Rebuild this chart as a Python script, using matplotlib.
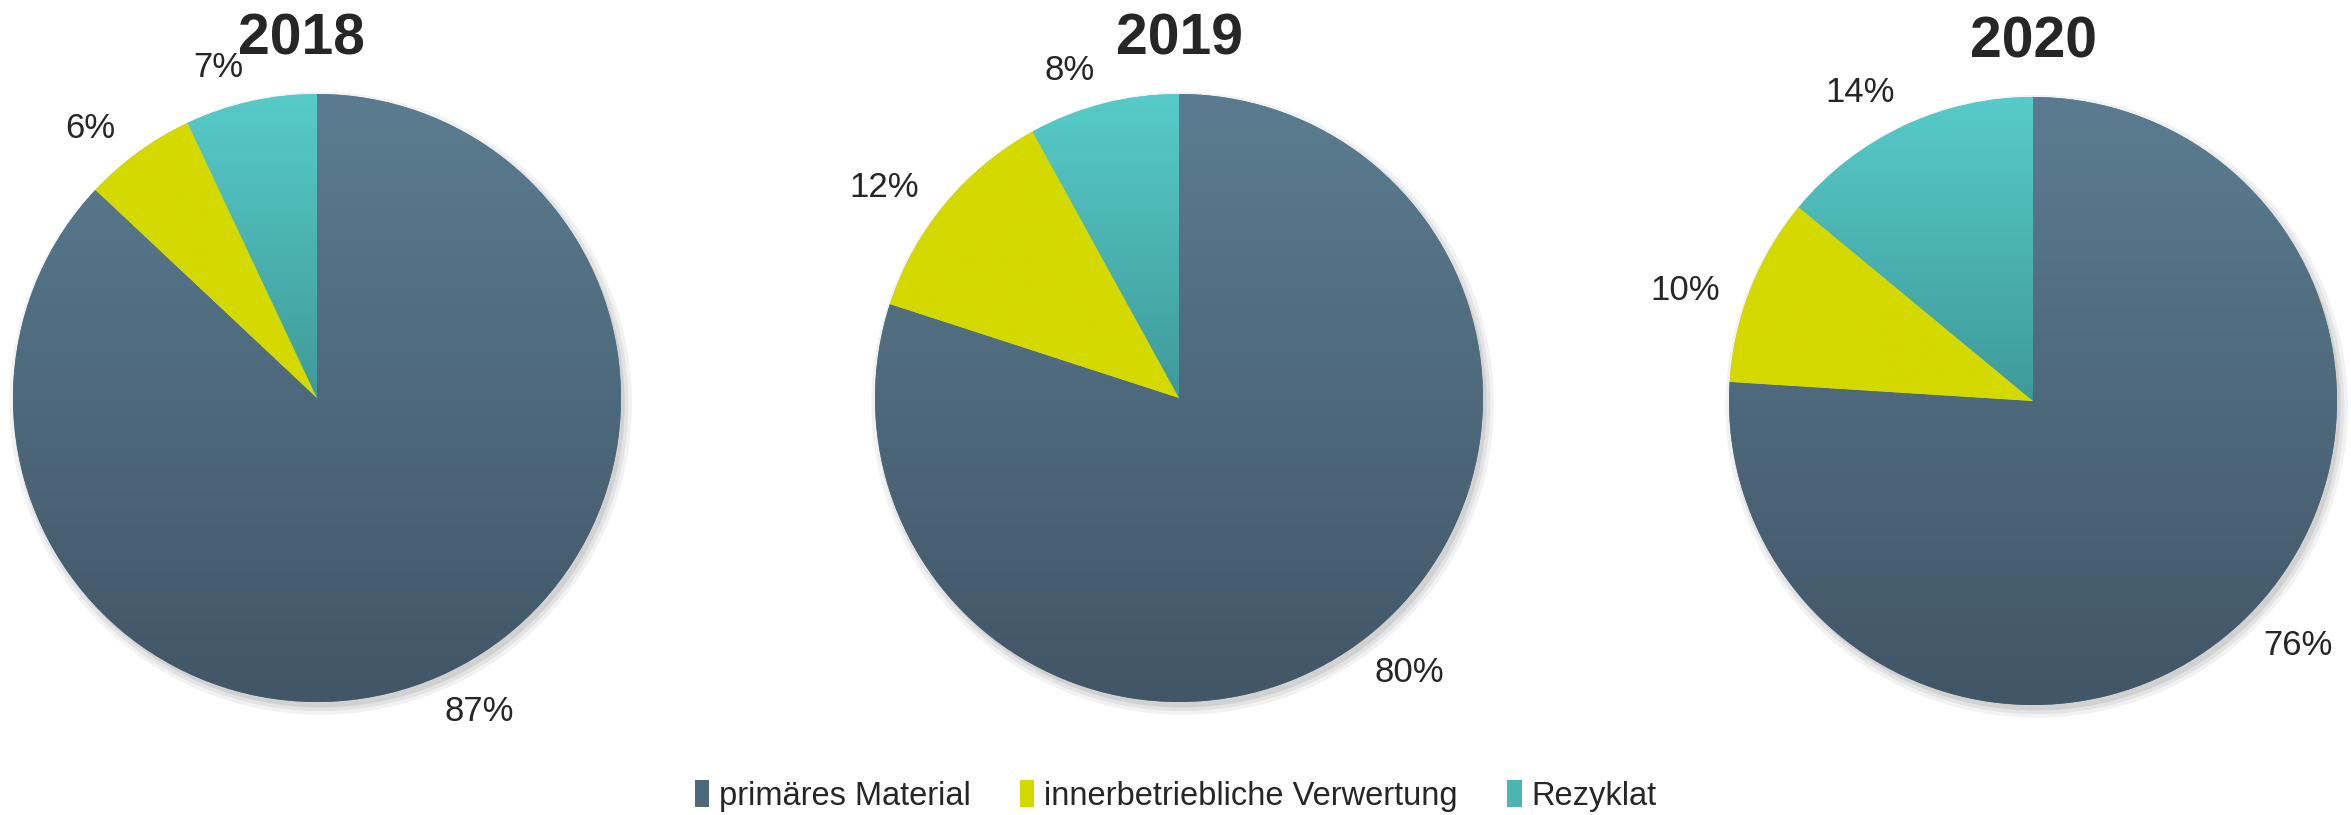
import numpy as np
import matplotlib
matplotlib.use("Agg")
import matplotlib.pyplot as plt
from matplotlib.patches import Patch, Circle
from matplotlib.colors import LinearSegmentedColormap
from matplotlib import font_manager

# data
years = ['2018', '2019', '2020']
categories = ['primäres Material', 'innerbetriebliche Verwertung', 'Rezyklat']
primaer = [87, 80, 76]
innerbetrieblich = [6, 12, 10]
rezyklat = [7, 8, 14]

# colours (top / bottom of gradient)
col_top = ['#5b7c90', '#d4d900', '#57cbc9']
col_bot = ['#415667', '#d4d900', '#3f9a9a']
text_col = '#262626'

names = {f.name for f in font_manager.fontManager.ttflist}
narrow = 'Liberation Sans Narrow' if 'Liberation Sans Narrow' in names else 'Liberation Sans'
plt.rcParams['font.family'] = ['Liberation Sans', 'DejaVu Sans']

W, H = 2351, 815
fig = plt.figure(figsize=(W / 100, H / 100), dpi=100)
renderer = fig.canvas.get_renderer()

centers = [(317, 398), (1179, 398), (2033, 401)]
radius_px = 304
L = 1.3
side = 2 * L * radius_px
title_dx = [-0.05, 0.0, 0.0]
gap = 0.08       # space between pie edge and label box (radius units)
rot = 4.0        # small angular shift of the labels (deg)

for i, yr in enumerate(years):
    cx, cy = centers[i]
    ax = fig.add_axes([(cx - side / 2) / W, (H - cy - side / 2) / H, side / W, side / H])
    ax.set_xlim(-L, L)
    ax.set_ylim(-L, L)
    ax.set_aspect('equal')
    ax.axis('off')

    # soft shadow
    for k, a in enumerate([0.05, 0.06, 0.08]):
        ax.add_patch(Circle((0.012, -0.018), 1.0 + 0.012 * (2 - k), color='#000000',
                            alpha=a, lw=0, zorder=0))

    vals = [primaer[i], innerbetrieblich[i], rezyklat[i]]
    wedges, _ = ax.pie(vals, startangle=90, counterclock=False, colors=col_top,
                       radius=1.0, wedgeprops=dict(linewidth=0))
    for w in wedges:
        w.set_zorder(1)

    # vertical gradient on each wedge
    for j, w in enumerate(wedges):
        ext = w.get_path().get_extents()
        cmap = LinearSegmentedColormap.from_list('g%d' % j, [col_bot[j], col_top[j]])
        grad = np.linspace(0, 1, 256).reshape(-1, 1)
        im = ax.imshow(grad, extent=(ext.x0, ext.x1, ext.y0, ext.y1), origin='lower',
                       cmap=cmap, aspect='auto', zorder=2, interpolation='bilinear')
        im.set_clip_path(w)
    ax.set_xlim(-L, L)
    ax.set_ylim(-L, L)

    # percentage labels, placed just outside the slice end
    scale = radius_px  # pixels per data unit
    start = 90.0
    for v in vals:
        mid = np.deg2rad(start - v * 3.6 / 2 + rot)
        t = ax.text(0, 0, '%d%%' % v, ha='center', va='center', fontsize=25,
                    color=text_col, zorder=3)
        bb = t.get_window_extent(renderer)
        hw, hh = bb.width / 2 / scale, bb.height / 2 / scale
        d = 1.0 + gap + abs(np.cos(mid)) * hw + abs(np.sin(mid)) * hh * 0.6
        t.set_position((d * np.cos(mid), d * np.sin(mid)))
        start -= v * 3.6

    ax.text(title_dx[i], 1.13, yr, ha='center', va='baseline', fontsize=41,
            fontweight='bold', family=[narrow, 'Liberation Sans'], color=text_col)

handles = [Patch(facecolor=c, edgecolor='none') for c in ['#4d677b', col_top[1], '#4cb5b4']]
fig.legend(handles, categories, loc='center', bbox_to_anchor=(0.5, 1 - 796 / H), ncol=3,
           frameon=False, prop={'family': [narrow, 'Liberation Sans'], 'size': 23.5},
           handlelength=0.45, handleheight=0.9, handletextpad=0.3, columnspacing=1.5,
           labelcolor=text_col)

fig.savefig('out.png', dpi=100, facecolor='white')
